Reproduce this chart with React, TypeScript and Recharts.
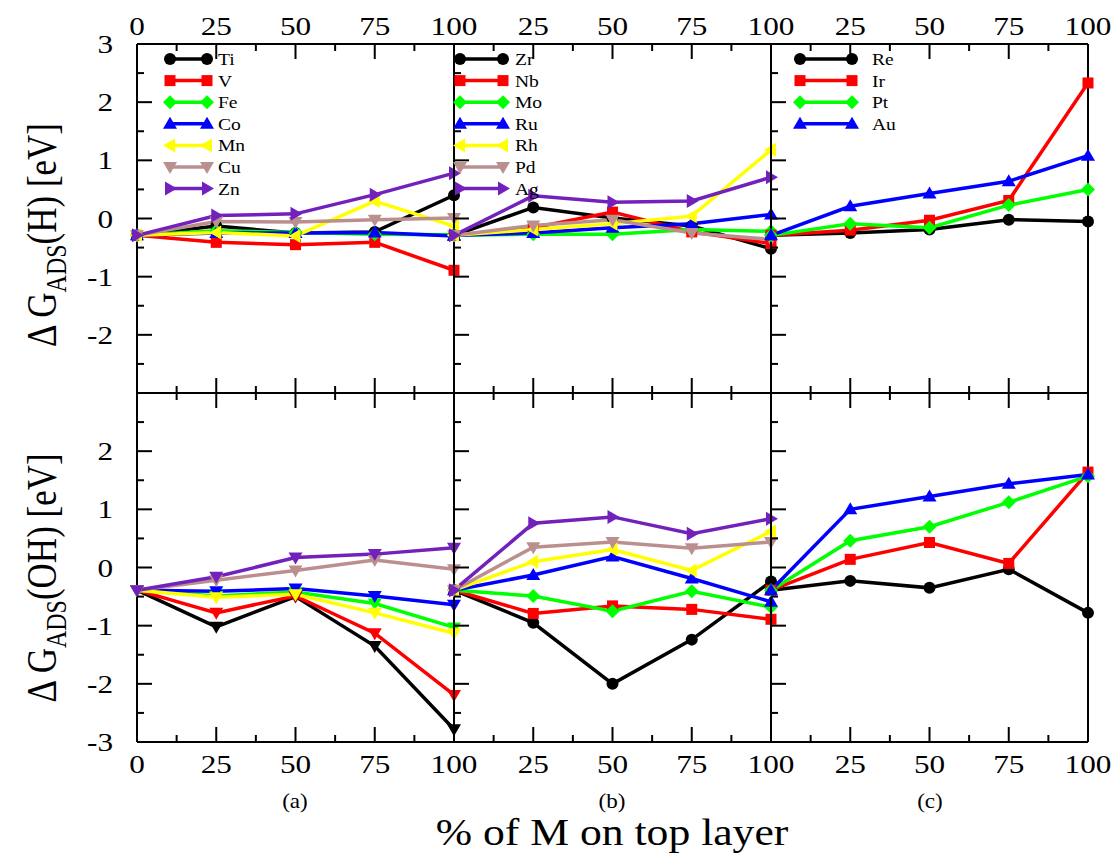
import React from 'react';
import { LineChart, Line, XAxis, YAxis, Legend } from 'recharts';

// % of M on top layer
const pct = [0, 25, 50, 75, 100];
const xTicks = [0, 12.5, 25, 37.5, 50, 62.5, 75, 87.5, 100];
const yTicks = [-3, -2.5, -2, -1.5, -1, -0.5, 0, 0.5, 1, 1.5, 2, 2.5, 3];
const xLabelsFirst = [0, 25, 50, 75, 100];
const xLabelsOther = [25, 50, 75, 100];
const yLabelsH = [3, 2, 1, 0, -1, -2];
const yLabelsOH = [2, 1, 0, -1, -2, -3];

const groupA = ['Ti', 'V', 'Fe', 'Co', 'Mn', 'Cu', 'Zn'];
const groupB = ['Zr', 'Nb', 'Mo', 'Ru', 'Rh', 'Pd', 'Ag'];
const groupC = ['Re', 'Ir', 'Pt', 'Au'];
const colors = ['#000000', '#ff0000', '#00ff00', '#0000ff', '#ffff00', '#bc8f8f', '#7221bc'];
type Shape = 'circle' | 'square' | 'diamond' | 'up' | 'left' | 'down' | 'right';
const shapes: Shape[] = ['circle', 'square', 'diamond', 'up', 'left', 'down', 'right'];

// ΔG_ADS(H) [eV]
const hTi = [-0.29, -0.13, -0.25, -0.23, 0.4];
const hV = [-0.29, -0.41, -0.45, -0.41, -0.89];
const hFe = [-0.29, -0.21, -0.24, -0.27, -0.28];
const hCo = [-0.29, -0.25, -0.25, -0.24, -0.3];
const hMn = [-0.29, -0.24, -0.3, 0.3, -0.13];
const hCu = [-0.29, -0.05, -0.06, -0.02, 0.01];
const hZn = [-0.29, 0.05, 0.08, 0.41, 0.78];
const hZr = [-0.29, 0.19, 0.01, -0.13, -0.52];
const hNb = [-0.29, -0.16, 0.11, -0.23, -0.43];
const hMo = [-0.29, -0.27, -0.27, -0.19, -0.22];
const hRu = [-0.29, -0.25, -0.16, -0.09, 0.07];
const hRh = [-0.29, -0.19, -0.09, 0.04, 1.18];
const hPd = [-0.29, -0.12, -0.02, -0.25, -0.36];
const hAg = [-0.29, 0.39, 0.28, 0.3, 0.71];
const hRe = [-0.29, -0.25, -0.19, -0.02, -0.05];
const hIr = [-0.29, -0.2, -0.03, 0.31, 2.33];
const hPt = [-0.29, -0.09, -0.16, 0.23, 0.5];
const hAu = [-0.29, 0.21, 0.43, 0.64, 1.08];

// ΔG_ADS(OH) [eV]
const ohTi = [-0.39, -1.02, -0.5, -1.35, -2.78];
const ohV = [-0.39, -0.78, -0.49, -1.13, -2.19];
const ohFe = [-0.39, -0.49, -0.42, -0.62, -1.03];
const ohCo = [-0.39, -0.41, -0.36, -0.49, -0.64];
const ohMn = [-0.39, -0.51, -0.46, -0.78, -1.13];
const ohCu = [-0.39, -0.22, -0.05, 0.13, -0.03];
const ohZn = [-0.39, -0.16, 0.17, 0.23, 0.34];
const ohZr = [-0.39, -0.95, -2.0, -1.24, -0.24];
const ohNb = [-0.39, -0.79, -0.66, -0.72, -0.89];
const ohMo = [-0.39, -0.49, -0.75, -0.41, -0.68];
const ohRu = [-0.39, -0.13, 0.19, -0.19, -0.59];
const ohRh = [-0.39, 0.1, 0.31, -0.05, 0.62];
const ohPd = [-0.39, 0.35, 0.44, 0.33, 0.44];
const ohAg = [-0.39, 0.76, 0.87, 0.58, 0.84];
const ohRe = [-0.39, -0.23, -0.35, -0.03, -0.78];
const ohIr = [-0.39, 0.14, 0.43, 0.07, 1.64];
const ohPt = [-0.39, 0.46, 0.7, 1.12, 1.57];
const ohAu = [-0.39, 1.0, 1.22, 1.44, 1.6];

const FONT = 'Liberation Serif, Times New Roman, serif';
const PLOT_LEFT = 137;
const PLOT_TOP = 44;
const PANEL_W = 317;
const PANEL_H = 349;
// outer space around each plot; axes are 1px thick so margins are one less
const PAD = { top: 40, right: 50, bottom: 50, left: 70 };
const M = { top: PAD.top - 1, right: PAD.right - 1, bottom: PAD.bottom - 1, left: PAD.left - 1 };

const buildRows = (names: string[], vals: number[][]) =>
  pct.map((x, i) => {
    const r: any = { x };
    names.forEach((n, j) => (r[n] = vals[j][i]));
    return r;
  });

const pts = (cx: number, cy: number, p: number[][]) => p.map(([a, b]) => `${cx + a},${cy + b}`).join(' ');

function Marker({ cx, cy, shape, color }: { cx: number; cy: number; shape: Shape; color: string }) {
  if (cx == null || cy == null || isNaN(cx) || isNaN(cy)) return null;
  switch (shape) {
    case 'circle':
      return <circle cx={cx} cy={cy} r={6} fill={color} />;
    case 'square':
      return <rect x={cx - 5.5} y={cy - 5.5} width={11} height={11} fill={color} />;
    case 'diamond':
      return <polygon points={pts(cx, cy, [[0, -7], [7, 0], [0, 7], [-7, 0]])} fill={color} />;
    case 'up':
      return <polygon points={pts(cx, cy, [[0, -7], [7, 5], [-7, 5]])} fill={color} />;
    case 'down':
      return <polygon points={pts(cx, cy, [[0, 7], [7, -5], [-7, -5]])} fill={color} />;
    case 'left':
      return <polygon points={pts(cx, cy, [[-7, 0], [5, -7], [5, 7]])} fill={color} />;
    default:
      return <polygon points={pts(cx, cy, [[7, 0], [-5, -7], [-5, 7]])} fill={color} />;
  }
}

type Side = 'top' | 'bottom' | 'left' | 'right';

function tickRenderer(side: Side, labels: number[]) {
  return (props: any) => {
    const { x, y, payload } = props;
    const v = Number(payload.value);
    const isX = side === 'top' || side === 'bottom';
    const major = isX ? v % 25 === 0 : Number.isInteger(v);
    const len = major ? 15 : 7;
    let x2 = x;
    let y2 = y;
    if (side === 'top') y2 = y + len;
    else if (side === 'bottom') y2 = y - len;
    else if (side === 'left') x2 = x + len;
    else x2 = x - len;
    let label = null;
    if (labels.includes(v)) {
      const txt = { style: { fontFamily: FONT }, fontSize: 26, fill: '#000' };
      if (side === 'top')
        label = <text transform={`translate(${x},${y - 9}) scale(1.2,1)`} textAnchor="middle" {...txt}>{v}</text>;
      else if (side === 'bottom')
        label = <text transform={`translate(${x},${y + 31}) scale(1.2,1)`} textAnchor="middle" {...txt}>{v}</text>;
      else if (side === 'left')
        label = <text transform={`translate(${x - 24},${y + 9}) scale(1.2,1)`} textAnchor="end" {...txt}>{v}</text>;
    }
    return (
      <g>
        <line x1={x} y1={y} x2={x2} y2={y2} stroke="#000" strokeWidth={2} />
        {label}
      </g>
    );
  };
}

function LegendBox({ names, col }: { names: string[]; col: number }) {
  const geo = [
    { x0: 33, x1: 70, tx: 81 },
    { x0: 6, x1: 49, tx: 61 },
    { x0: 29, x1: 81, tx: 101 },
  ][col];
  return (
    <svg width={160} height={170} style={{ overflow: 'visible', display: 'block' }}>
      {names.map((n, i) => {
        const y = 15 + i * 21.6;
        return (
          <g key={n}>
            <line x1={geo.x0} y1={y} x2={geo.x1} y2={y} stroke={colors[i]} strokeWidth={3.5} />
            <Marker cx={geo.x0} cy={y} shape={shapes[i]} color={colors[i]} />
            <Marker cx={geo.x1} cy={y} shape={shapes[i]} color={colors[i]} />
            <text
              transform={`translate(${geo.tx},${y + 6}) scale(1.15,1)`}
              style={{ fontFamily: FONT }}
              fontSize={17}
              fill="#000"
            >
              {n}
            </text>
          </g>
        );
      })}
    </svg>
  );
}

function Panel({
  col,
  row,
  names,
  vals,
  allDown,
}: {
  col: number;
  row: number;
  names: string[];
  vals: number[][];
  allDown?: boolean;
}) {
  const rows = buildRows(names, vals);
  const xLabels = col === 0 ? xLabelsFirst : xLabelsOther;
  const yLabels = col === 0 ? (row === 0 ? yLabelsH : yLabelsOH) : [];
  const left = PLOT_LEFT + col * PANEL_W - PAD.left;
  const top = PLOT_TOP + row * PANEL_H - PAD.top;
  const axisLine = { stroke: '#000', strokeWidth: 2 };
  const common = {
    tickSize: 0,
    tickMargin: 0,
    tickLine: false,
    interval: 0 as const,
    axisLine,
  };
  return (
    <div style={{ position: 'absolute', left, top }}>
      <LineChart
        width={PANEL_W + PAD.left + PAD.right}
        height={PANEL_H + PAD.top + PAD.bottom}
        data={rows}
        margin={M}
      >
        <XAxis
          xAxisId="b"
          dataKey="x"
          type="number"
          orientation="bottom"
          domain={[0, 100]}
          ticks={xTicks}
          height={1}
          {...common}
          tick={tickRenderer('bottom', row === 1 ? xLabels : [])}
        />
        <XAxis
          xAxisId="t"
          dataKey="x"
          type="number"
          orientation="top"
          domain={[0, 100]}
          ticks={xTicks}
          height={1}
          {...common}
          tick={tickRenderer('top', row === 0 ? xLabels : [])}
        />
        <YAxis
          yAxisId="l"
          type="number"
          orientation="left"
          domain={[-3, 3]}
          ticks={yTicks}
          width={1}
          {...common}
          tick={tickRenderer('left', yLabels)}
        />
        <YAxis
          yAxisId="r"
          type="number"
          orientation="right"
          domain={[-3, 3]}
          ticks={yTicks}
          width={1}
          {...common}
          tick={tickRenderer('right', [])}
        />
        {names.map((n, i) => (
          <Line
            key={n}
            xAxisId="b"
            yAxisId="l"
            dataKey={n}
            stroke={colors[i]}
            strokeWidth={3.5}
            isAnimationActive={false}
            dot={(p: any) => (
              <Marker key={`${n}-${p.index}`} cx={p.cx} cy={p.cy} shape={allDown ? 'down' : shapes[i]} color={colors[i]} />
            )}
            activeDot={false}
          />
        ))}
        {row === 0 && (
          <Legend
            layout="vertical"
            align="center"
            verticalAlign="middle"
            wrapperStyle={{ position: 'absolute', left: PAD.left, top: PAD.top, width: 160, height: 170 }}
            content={() => <LegendBox names={names} col={col} />}
          />
        )}
      </LineChart>
    </div>
  );
}

export default function App() {
  return (
    <div
      style={{
        position: 'absolute',
        left: 0,
        top: 0,
        width: 1115,
        height: 854,
        background: '#fff',
        overflow: 'hidden',
        fontFamily: FONT,
      }}
    >
      <Panel col={0} row={0} names={groupA} vals={[hTi, hV, hFe, hCo, hMn, hCu, hZn]} />
      <Panel col={1} row={0} names={groupB} vals={[hZr, hNb, hMo, hRu, hRh, hPd, hAg]} />
      <Panel col={2} row={0} names={groupC} vals={[hRe, hIr, hPt, hAu]} />
      <Panel col={0} row={1} names={groupA} vals={[ohTi, ohV, ohFe, ohCo, ohMn, ohCu, ohZn]} allDown />
      <Panel col={1} row={1} names={groupB} vals={[ohZr, ohNb, ohMo, ohRu, ohRh, ohPd, ohAg]} />
      <Panel col={2} row={1} names={groupC} vals={[ohRe, ohIr, ohPt, ohAu]} />
      <svg
        width={1115}
        height={854}
        style={{ position: 'absolute', left: 0, top: 0, pointerEvents: 'none', fontFamily: FONT }}
      >
        <text transform="translate(56,235) rotate(-90) scale(1,1.2)" textAnchor="middle" fontSize={35} fill="#000">
          Δ G<tspan fontSize={24} dy={8}>ADS</tspan>
          <tspan dy={-8}>(H) [eV]</tspan>
        </text>
        <text transform="translate(56,578) rotate(-90) scale(1,1.2)" textAnchor="middle" fontSize={35} fill="#000">
          Δ G<tspan fontSize={24} dy={8}>ADS</tspan>
          <tspan dy={-8}>(OH) [eV]</tspan>
        </text>
        <text transform="translate(295,808) scale(1.1,1)" textAnchor="middle" fontSize={21} fill="#000">(a)</text>
        <text transform="translate(612,808) scale(1.1,1)" textAnchor="middle" fontSize={21} fill="#000">(b)</text>
        <text transform="translate(930,808) scale(1.1,1)" textAnchor="middle" fontSize={21} fill="#000">(c)</text>
        <text transform="translate(612,845) scale(1.18,1)" textAnchor="middle" fontSize={37} fill="#000">
          % of M on top layer
        </text>
      </svg>
    </div>
  );
}
